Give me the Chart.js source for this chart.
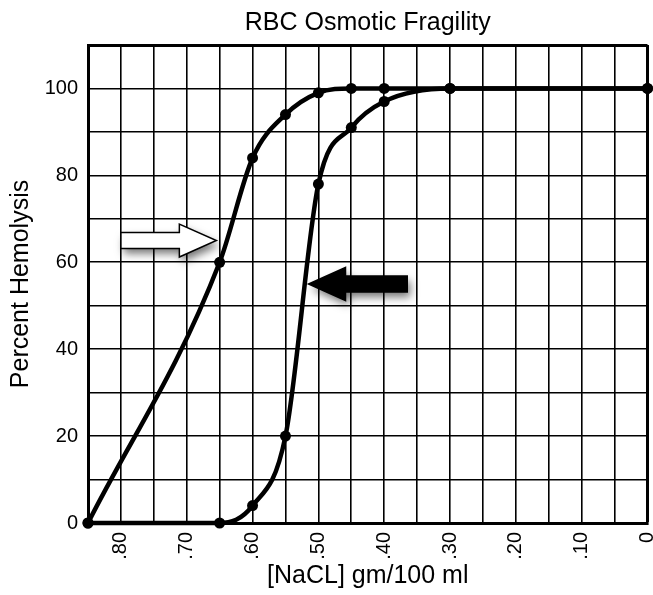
<!DOCTYPE html>
<html lang="en">
<head>
<meta charset="UTF-8">
<title>RBC Osmotic Fragility</title>
<script src="https://cdn.jsdelivr.net/npm/chart.js@4.4.1/dist/chart.umd.min.js"></script>
<style>
  html, body { margin: 0; padding: 0; background: #fff; }
</style>
</head>
<body>
<canvas id="myChart" width="653" height="595"></canvas>
<script>
// Nồng độ NaCl (gm/100 ml) tại các điểm đo
const nacl = [0.85, 0.65, 0.60, 0.55, 0.50, 0.45, 0.40, 0.30, 0];
// % tan máu - đường bên trái (mũi tên trắng)
const hemolysisLeft = [0, 60, 84, 94, 99, 100, 100, 100, 100];
// % tan máu - đường bên phải (mũi tên đen)
const hemolysisRight = [0, 0, 4, 20, 78, 91, 97, 100, 100];

// Nhãn trục
const xLabelValues = [0.80, 0.70, 0.60, 0.50, 0.40, 0.30, 0.20, 0.10, 0];
const xLabelTexts = ['.80', '.70', '.60', '.50', '.40', '.30', '.20', '.10', '0'];
const yLabelValues = [0, 20, 40, 60, 80, 100];

// Hai mũi tên chỉ vào đường cong (toạ độ theo dữ liệu)
const arrowWhite = { from: [0.80, 65], to: [0.655, 65] };
const arrowBlack = { from: [0.365, 55], to: [0.515, 55] };

const FONT = 'Liberation Sans, Arial, Helvetica, sans-serif';

const toPoints = (ys) => nacl.map((x, i) => ({ x: x, y: ys[i] }));

function drawArrow(chart, a, fillColor) {
    const { ctx, scales: { x, y } } = chart;
    const x0 = x.getPixelForValue(a.from[0]);
    const x1 = x.getPixelForValue(a.to[0]);
    const yc = y.getPixelForValue(a.from[1]);
    const dir = Math.sign(x1 - x0);
    const headLen = 37, bodyH = 8, headH = 16.5;
    const xh = x1 - dir * headLen;

    ctx.save();
    ctx.beginPath();
    ctx.moveTo(x0, yc - bodyH);
    ctx.lineTo(xh, yc - bodyH);
    ctx.lineTo(xh, yc - headH);
    ctx.lineTo(x1, yc);
    ctx.lineTo(xh, yc + headH);
    ctx.lineTo(xh, yc + bodyH);
    ctx.lineTo(x0, yc + bodyH);
    ctx.closePath();
    // bóng đổ mềm phía dưới bên phải
    ctx.shadowColor = 'rgba(0,0,0,0.55)';
    ctx.shadowBlur = 9;
    ctx.shadowOffsetX = 3;
    ctx.shadowOffsetY = 5;
    ctx.fillStyle = fillColor;
    ctx.fill();
    ctx.shadowColor = 'transparent';
    ctx.lineWidth = 1.5;
    ctx.strokeStyle = '#000';
    ctx.stroke();
    ctx.restore();
}

const arrowPlugin = {
    id: 'arrows',
    afterDatasetsDraw(chart) {
        drawArrow(chart, arrowWhite, '#fff');
        drawArrow(chart, arrowBlack, '#000');
    }
};

const ctx = document.getElementById('myChart').getContext('2d');

const lineStyle = {
    borderColor: '#000',
    borderWidth: 4.5,
    pointRadius: 5.5,
    pointBackgroundColor: '#000',
    pointBorderWidth: 0,
    cubicInterpolationMode: 'monotone',
    fill: false,
    clip: false
};

let myChart = new Chart(ctx, {
    type: 'line',
    data: {
        datasets: [
            Object.assign({ label: 'Left', data: toPoints(hemolysisLeft) }, lineStyle),
            Object.assign({ label: 'Right', data: toPoints(hemolysisRight) }, lineStyle)
        ]
    },
    options: {
        responsive: false,
        animation: false,
        devicePixelRatio: 1,
        layout: { padding: { left: 0, right: 4.5, top: 0, bottom: 0 } },
        scales: {
            x: {
                type: 'linear',
                reverse: true,
                min: 0,
                max: 0.85,
                afterFit(scale) {
                    scale.height = 72;
                    scale.paddingLeft = 0;
                    scale.paddingRight = 0;
                },
                ticks: {
                    stepSize: 0.05,
                    autoSkip: false,
                    minRotation: 90,
                    maxRotation: 90,
                    padding: 9,
                    color: '#000',
                    font: { family: FONT, size: 20 },
                    callback: (v) => {
                        const i = xLabelValues.findIndex(t => Math.abs(t - v) < 1e-6);
                        return i >= 0 ? xLabelTexts[i] : '';
                    }
                },
                grid: {
                    color: '#000',
                    drawTicks: false,
                    lineWidth: (c) => (c.tick && Math.abs(c.tick.value) < 1e-6 ? 3 : 1.6)
                },
                border: { display: true, color: '#000', width: 3 },
                title: {
                    display: true,
                    text: '[NaCL] gm/100 ml',
                    color: '#000',
                    font: { family: FONT, size: 25 },
                    padding: { top: 0, bottom: 4 }
                }
            },
            y: {
                min: 0,
                max: 110,
                afterFit(scale) {
                    scale.width = 88;
                    scale.paddingTop = 0;
                    scale.paddingBottom = 0;
                },
                ticks: {
                    stepSize: 10,
                    autoSkip: false,
                    padding: 10,
                    color: '#000',
                    font: { family: FONT, size: 20 },
                    callback: (v) => (yLabelValues.includes(v) ? String(v) : '')
                },
                grid: {
                    color: '#000',
                    drawTicks: false,
                    lineWidth: (c) => (c.tick && c.tick.value === 110 ? 3 : 1.6)
                },
                border: { display: true, color: '#000', width: 3 },
                title: {
                    display: true,
                    text: 'Percent Hemolysis',
                    color: '#000',
                    font: { family: FONT, size: 25 },
                    padding: { top: 6, bottom: 0 }
                }
            }
        },
        plugins: {
            title: {
                display: true,
                text: 'RBC Osmotic Fragility',
                color: '#000',
                fullSize: false,
                font: { family: FONT, size: 25, weight: 'normal' },
                padding: { top: 8, bottom: 7 }
            },
            legend: { display: false },
            tooltip: { enabled: false }
        }
    },
    plugins: [arrowPlugin]
});
</script>
</body>
</html>
